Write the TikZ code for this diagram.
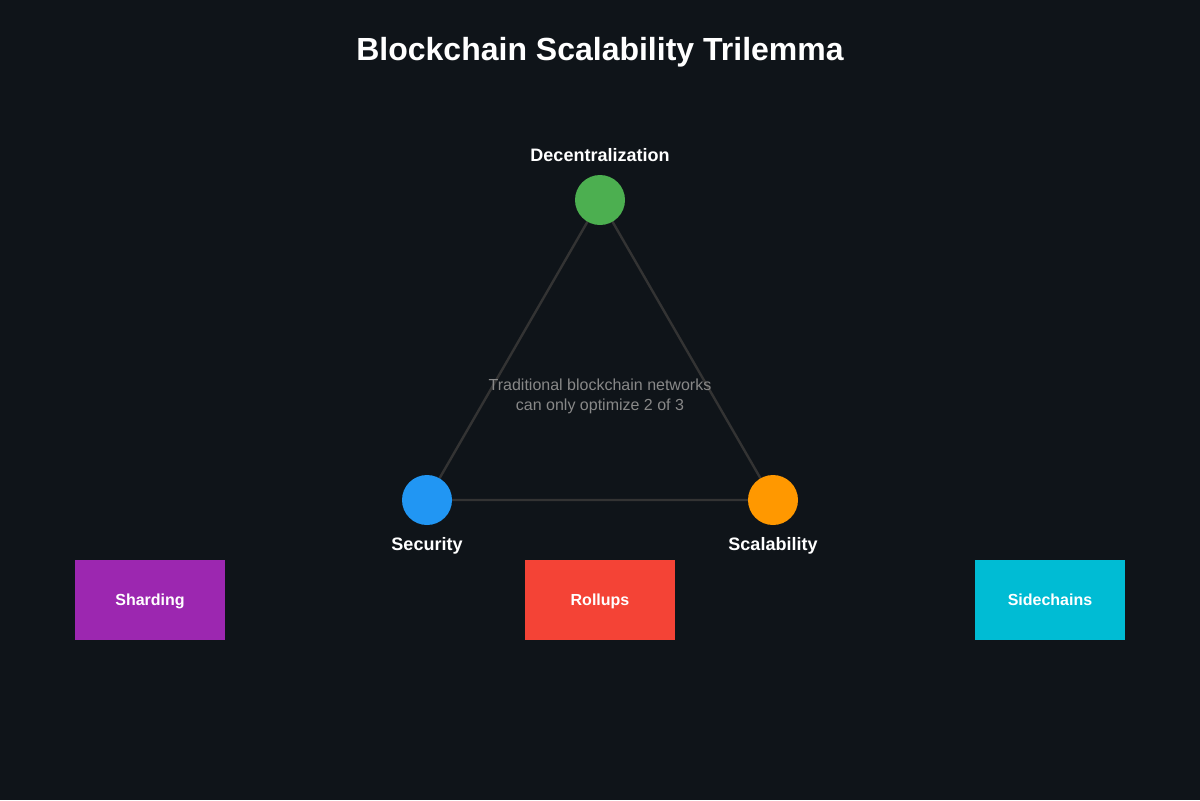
\documentclass[tikz,border=0pt]{standalone}
\usepackage{fontspec}
\setmainfont{Liberation Sans}
\usepackage{xcolor}
\usetikzlibrary{positioning}
\definecolor{bg}{HTML}{0F1419}
\definecolor{edge}{HTML}{333333}
\definecolor{note}{HTML}{888888}
\definecolor{green}{HTML}{4CAF50}
\definecolor{blue}{HTML}{2196F3}
\definecolor{orange}{HTML}{FF9800}
\definecolor{purple}{HTML}{9C27B0}
\definecolor{red}{HTML}{F44336}
\definecolor{cyan}{HTML}{00BCD4}
\tikzset{
  vertex/.style={circle,fill=#1,minimum size=25pt,inner sep=0pt},
  vlabel/.style={text=white,font=\fontsize{9}{11}\selectfont\bfseries},
  solution/.style={fill=#1,minimum width=75pt,minimum height=40pt,inner sep=0pt,
    text=white,text depth=0pt,font=\fontsize{8}{10}\selectfont\bfseries},
}

\begin{document}
\begin{tikzpicture}[x=0.5pt,y=-0.5pt]
  \fill[bg] (0,0) rectangle (1200,800);
  \useasboundingbox (0,0) rectangle (1200,800);
  \node[text=white,font=\fontsize{16}{20}\selectfont\bfseries] (title) at (600,52) {Blockchain Scalability Trilemma};
  % corners of the triangle
  \coordinate (pdec) at (600,200); \coordinate (psec) at (427,500); \coordinate (psca) at (773,500);
  \draw[edge,line width=1.2pt] (pdec)--(psec)--(psca)--cycle;
  \node[vertex=green] (dec) at (pdec) {};
  \node[vertex=blue] (sec) at (psec) {};
  \node[vertex=orange] (sca) at (psca) {};
  \node[vlabel] (declabel) at (600,155) {Decentralization};
  \node[vlabel] (seclabel) at (427,546) {Security};
  \node[vlabel] (scalabel) at (773,546) {Scalability};
  \node[text=note,font=\fontsize{8}{10}\selectfont,align=center] (remark) at (600,396)
    {Traditional blockchain networks\\can only optimize 2 of 3};
  % scaling approaches
  \node[solution=purple] (shard) at (150,600) {Sharding};
  \node[solution=red] (roll) at (600,600) {Rollups};
  \node[solution=cyan] (side) at (1050,600) {Sidechains};
\end{tikzpicture}
\end{document}
